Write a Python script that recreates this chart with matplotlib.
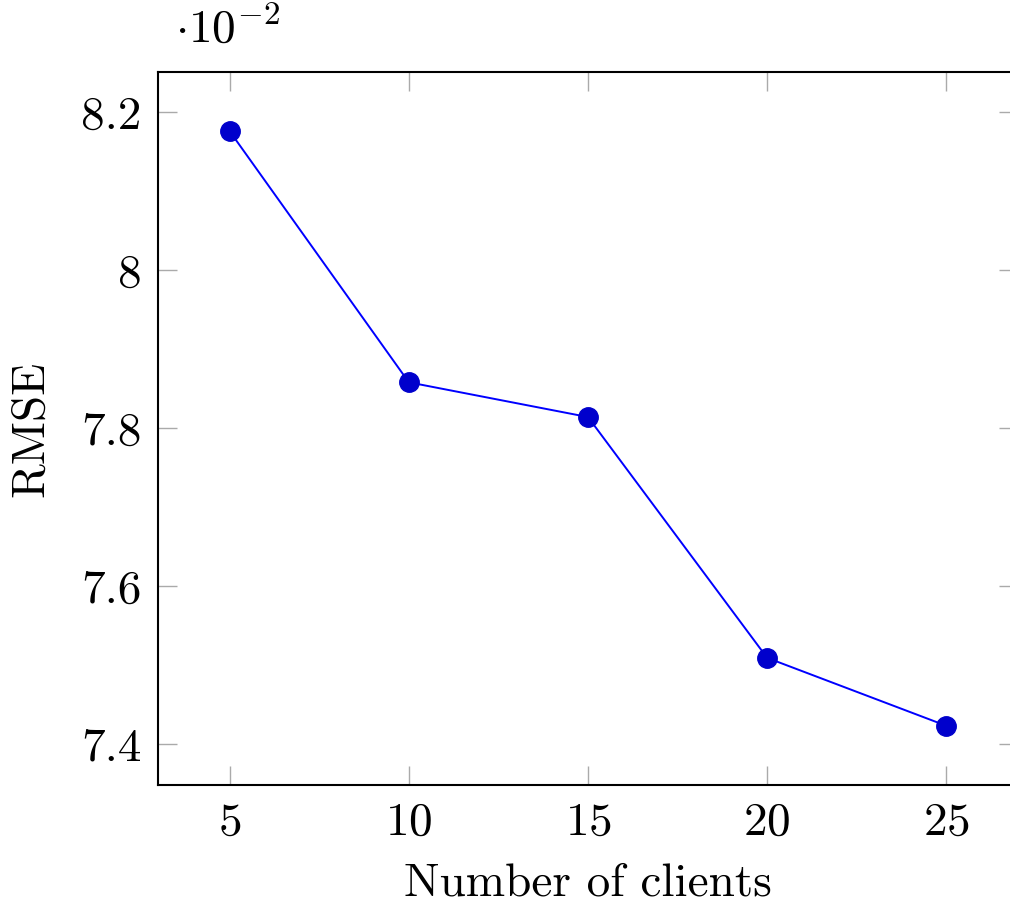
import matplotlib
matplotlib.use("Agg")
import matplotlib.pyplot as plt
from matplotlib.ticker import FuncFormatter

# RMSE versus the number of participating clients
clients = [5, 10, 15, 20, 25]
rmse = [0.08176, 0.07858, 0.07814, 0.07509, 0.07423]
x_ticks = [5, 10, 15, 20, 25]
y_ticks = [0.074, 0.076, 0.078, 0.080, 0.082]

plt.rcParams["font.family"] = "cmr10"
plt.rcParams["mathtext.fontset"] = "cm"
plt.rcParams["axes.formatter.use_mathtext"] = True

fig = plt.figure(figsize=(10.10, 9.05), dpi=100)
W, H = 1010, 905
left, right, top, bottom = 158, 1018, 72, 785
ax = fig.add_axes([left / W, 1 - bottom / H, (right - left) / W, (bottom - top) / H])

ax.plot(clients, rmse, color="#0000ff", lw=1.4, marker="o", markersize=14,
        markerfacecolor="#0000cc", markeredgecolor="#0000cc", zorder=3)

ax.set_xlim(3, 27)
ax.set_ylim(0.07348, 0.08251)
ax.set_xticks(x_ticks)
ax.set_yticks(y_ticks)
ax.yaxis.set_major_formatter(FuncFormatter(lambda v, p: f"{v * 100:g}"))

for s in ax.spines.values():
    s.set_linewidth(1.5)

ax.tick_params(direction="in", length=13.5, width=1.0, color="#aaaaaa",
               top=True, right=True, labelsize=34)
ax.tick_params(axis="x", pad=12)
ax.tick_params(axis="y", pad=12)

ax.set_xlabel("Number of clients", fontsize=34, labelpad=14)
ax.set_ylabel("RMSE", fontsize=34, labelpad=21)

ax.text(0.02, 1.03, r"$\cdot 10^{-2}$", transform=ax.transAxes, fontsize=34,
        ha="left", va="bottom")

fig.savefig("out.png", dpi=100)
